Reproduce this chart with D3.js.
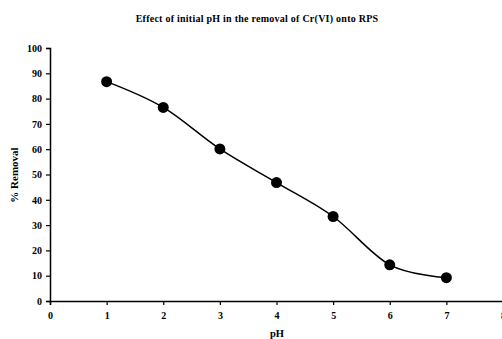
<!DOCTYPE html>
<html>
<head>
<meta charset="utf-8">
<script src="https://cdn.jsdelivr.net/npm/d3@7"></script>
<style>
body { margin: 0; background: #fff; }
text { font-family: "Liberation Serif", "Times New Roman", serif; font-weight: bold; fill: #000; }
</style>
</head>
<body>
<svg id="chart"></svg>
<script>
var pH = [1, 2, 3, 4, 5, 6, 7];
var removal = [86.7, 76.5, 60.1, 46.8, 33.4, 14.3, 9.2];
var xTicks = [0, 1, 2, 3, 4, 5, 6, 7, 8];
var yTicks = [0, 10, 20, 30, 40, 50, 60, 70, 80, 90, 100];

var width = 502, height = 339;
var svg = d3.select('#chart')
    .attr('width', width)
    .attr('height', height);

var x = d3.scaleLinear().domain([0, 8]).range([50, 503]);
var y = d3.scaleLinear().domain([0, 100]).range([301, 48]);

// title
svg.append('text')
    .attr('x', 257)
    .attr('y', 22)
    .attr('text-anchor', 'middle')
    .style('font-size', '10px')
    .style('letter-spacing', '0.25px')
    .text('Effect of initial pH in the removal of Cr(VI) onto RPS');

// y axis
var yAxis = svg.append('g')
    .attr('transform', 'translate(50,0)')
    .call(d3.axisLeft(y).tickValues(yTicks).tickSize(4).tickPadding(4));
yAxis.select('.domain').attr('stroke-width', 1.5);
yAxis.selectAll('.tick line').attr('stroke-width', 1.2);
yAxis.selectAll('text').style('font-size', '10px');

// x axis
var xAxis = svg.append('g')
    .attr('transform', 'translate(0,301)')
    .call(d3.axisBottom(x).tickValues(xTicks).tickSize(4).tickPadding(7));
xAxis.select('.domain').attr('stroke-width', 1.5);
xAxis.selectAll('.tick line').attr('stroke-width', 1.2);
xAxis.selectAll('text').style('font-size', '10px');

// axis titles
svg.append('text')
    .attr('transform', 'translate(18,175) rotate(-90)')
    .attr('text-anchor', 'middle')
    .style('font-size', '11px')
    .text('% Removal');

svg.append('text')
    .attr('x', 277)
    .attr('y', 337)
    .attr('text-anchor', 'middle')
    .style('font-size', '10.5px')
    .text('pH');

// line
var pts = pH.map(function(d, i){ return [d, removal[i]]; });
var line = d3.line()
    .x(function(d){ return x(d[0]); })
    .y(function(d){ return y(d[1]); })
    .curve(d3.curveCardinal.tension(0));

svg.append('path')
    .datum(pts)
    .attr('d', line)
    .attr('fill', 'none')
    .attr('stroke', '#000')
    .attr('stroke-width', 1.5);

svg.selectAll('.pt')
    .data(pts)
    .enter().append('circle')
    .attr('class', 'pt')
    .attr('cx', function(d){ return x(d[0]); })
    .attr('cy', function(d){ return y(d[1]); })
    .attr('r', 5.5)
    .attr('fill', '#000');
</script>
</body>
</html>
